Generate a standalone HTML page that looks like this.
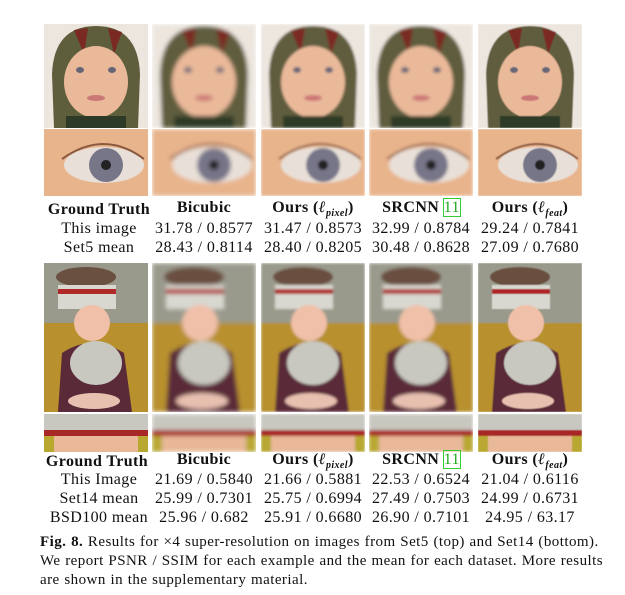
<!DOCTYPE html>
<html><head><meta charset="utf-8"><style>
body{margin:0;background:#fff;width:625px;height:595px;position:relative;overflow:hidden;font-family:"Liberation Serif",serif;color:#111}
.t{position:absolute;font-size:16px;letter-spacing:0.4px;white-space:nowrap;text-align:center;width:110px;line-height:18px}
.h{font-weight:bold}
.cap{position:absolute;left:40px;font-size:15px;letter-spacing:0.45px;word-spacing:0.5px;white-space:nowrap;line-height:18px}
svg{position:absolute}
</style></head><body>
<div id="imgs"></div>
<script>
const cols=[44,152,261,369,478];
const blur=[0,2.2,1.2,1.5,0.4];
const g=document.getElementById('imgs');
cols.forEach((x,i)=>{
 const b=blur[i];
 const f=b?`<defs><filter id="f${i}"><feGaussianBlur stdDeviation="${b}"/></filter></defs>`:'';
 const fl=b?`filter="url(#f${i})"`:'';
 let s=`<svg style="left:${x}px;top:24px" width="104" height="104">${f}<g ${fl}>
 <rect width="104" height="104" fill="#ece6df"/>
 <path d="M10 104 L8 50 Q10 2 52 2 Q94 2 96 50 L94 104 Z" fill="#5e5d3c"/>
 <path d="M30 6 L44 4 L40 30 Z M64 4 L78 8 L70 30 Z" fill="#7a2a20"/>
 <ellipse cx="52" cy="58" rx="32" ry="36" fill="#eab99a"/>
 <rect x="22" y="92" width="60" height="12" fill="#2e3a28"/>
 <ellipse cx="36" cy="46" rx="4" ry="3" fill="#667"/><ellipse cx="68" cy="46" rx="4" ry="3" fill="#667"/>
 <ellipse cx="52" cy="74" rx="9" ry="3" fill="#c77"/></g></svg>`;
 s+=`<svg style="left:${x}px;top:129px" width="104" height="67">${f}<g ${fl}>
 <rect width="104" height="67" fill="#e8b48c"/>
 <ellipse cx="60" cy="36" rx="40" ry="18" fill="#e8e0d8"/>
 <circle cx="62" cy="36" r="17" fill="#777588"/><circle cx="62" cy="36" r="5" fill="#222"/>
 <path d="M18 30 Q60 0 100 30" stroke="#8a5a40" stroke-width="2" fill="none"/></g></svg>`;
 s+=`<svg style="left:${x}px;top:263px" width="104" height="149">${f}<g ${fl}>
 <rect width="104" height="149" fill="#9a9a8c"/>
 <rect y="60" width="104" height="89" fill="#b8902e"/>
 <ellipse cx="42" cy="14" rx="30" ry="10" fill="#6a5040"/>
 <rect x="14" y="22" width="58" height="24" fill="#d8d8d0"/><rect x="14" y="26" width="58" height="5" fill="#b02828"/>
 <ellipse cx="48" cy="60" rx="18" ry="18" fill="#f0c0a8"/>
 <path d="M14 149 L18 90 Q48 70 80 90 L88 149 Z" fill="#5a2a38"/>
 <ellipse cx="52" cy="100" rx="26" ry="22" fill="#c8c8c0"/>
 <ellipse cx="50" cy="138" rx="26" ry="8" fill="#e8c0b0"/></g></svg>`;
 s+=`<svg style="left:${x}px;top:414px" width="104" height="38">${f}<g ${fl}>
 <rect width="104" height="38" fill="#b8a830"/>
 <rect width="104" height="16" fill="#c8c8c0"/><rect y="16" width="104" height="6" fill="#a82828"/>
 <rect x="10" y="22" width="84" height="16" fill="#e8b898"/></g></svg>`;
 g.insertAdjacentHTML('beforeend',s);
});
</script>
<div>
<div class="t h" style="left:36px;top:201px;width:126px">Ground Truth</div>
<div class="t h" style="left:149px;top:199px">Bicubic</div>
<div class="t h" style="left:258px;top:199px">Ours (<i>ℓ<sub style="font-size:10px">pixel</sub></i>)</div>
<div class="t h" style="left:366px;top:199px">SRCNN <span style="color:#2a2;outline:1px solid #3c3;font-weight:normal">11</span></div>
<div class="t h" style="left:475px;top:199px">Ours (<i>ℓ<sub style="font-size:10px">feat</sub></i>)</div>
<div class="t" style="left:44px;top:220px">This image</div>
<div class="t" style="left:44px;top:239px">Set5 mean</div>
<div class="t" style="left:149px;top:220px">31.78 / 0.8577</div>
<div class="t" style="left:258px;top:220px">31.47 / 0.8573</div>
<div class="t" style="left:366px;top:220px">32.99 / 0.8784</div>
<div class="t" style="left:475px;top:220px">29.24 / 0.7841</div>
<div class="t" style="left:149px;top:239px">28.43 / 0.8114</div>
<div class="t" style="left:258px;top:239px">28.40 / 0.8205</div>
<div class="t" style="left:366px;top:239px">30.48 / 0.8628</div>
<div class="t" style="left:475px;top:239px">27.09 / 0.7680</div>
</div>
<div>
<div class="t h" style="left:34px;top:453px;width:126px">Ground Truth</div>
<div class="t h" style="left:149px;top:451px">Bicubic</div>
<div class="t h" style="left:258px;top:451px">Ours (<i>ℓ<sub style="font-size:10px">pixel</sub></i>)</div>
<div class="t h" style="left:366px;top:451px">SRCNN <span style="color:#2a2;outline:1px solid #3c3;font-weight:normal">11</span></div>
<div class="t h" style="left:475px;top:451px">Ours (<i>ℓ<sub style="font-size:10px">feat</sub></i>)</div>
<div class="t" style="left:44px;top:471px">This Image</div>
<div class="t" style="left:44px;top:490px">Set14 mean</div>
<div class="t" style="left:44px;top:509px">BSD100 mean</div>
<div class="t" style="left:149px;top:471px">21.69 / 0.5840</div>
<div class="t" style="left:258px;top:471px">21.66 / 0.5881</div>
<div class="t" style="left:366px;top:471px">22.53 / 0.6524</div>
<div class="t" style="left:475px;top:471px">21.04 / 0.6116</div>
<div class="t" style="left:149px;top:490px">25.99 / 0.7301</div>
<div class="t" style="left:258px;top:490px">25.75 / 0.6994</div>
<div class="t" style="left:366px;top:490px">27.49 / 0.7503</div>
<div class="t" style="left:475px;top:490px">24.99 / 0.6731</div>
<div class="t" style="left:149px;top:509px">25.96 / 0.682</div>
<div class="t" style="left:258px;top:509px">25.91 / 0.6680</div>
<div class="t" style="left:366px;top:509px">26.90 / 0.7101</div>
<div class="t" style="left:475px;top:509px">24.95 / 63.17</div>
</div>
<div>
<div class="cap" style="top:533px"><b>Fig. 8.</b> Results for ×4 super-resolution on images from Set5 (top) and Set14 (bottom).</div>
<div class="cap" style="top:552px">We report PSNR / SSIM for each example and the mean for each dataset. More results</div>
<div class="cap" style="top:571px">are shown in the supplementary material.</div>
</div>
</body></html>
